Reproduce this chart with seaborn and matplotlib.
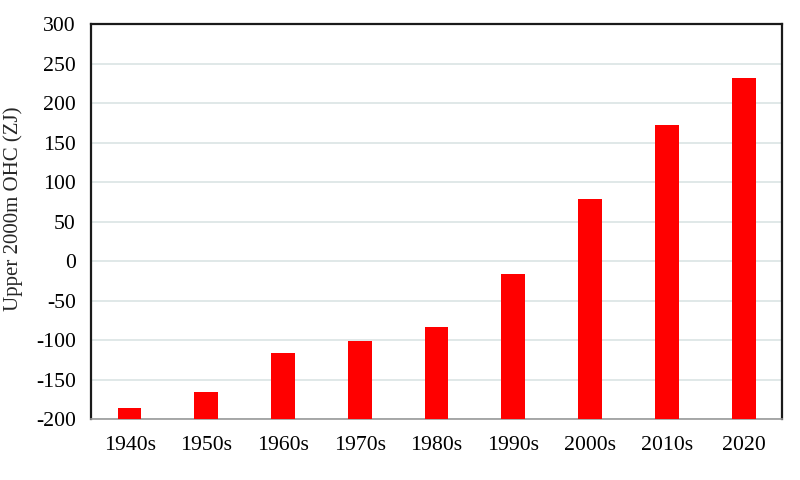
import matplotlib
matplotlib.use("Agg")
import matplotlib.pyplot as plt
import seaborn as sns
import pandas as pd
import numpy as np

categories = ["1940s", "1950s", "1960s", "1970s", "1980s", "1990s", "2000s", "2010s", "2020"]
ohc_values = [-186.5, -166, -116, -101.5, -83, -17, 78, 172, 232]
y_ticks = [-200, -150, -100, -50, 0, 50, 100, 150, 200, 250, 300]
baseline = -200

sns.set_theme(style="white")
plt.rcParams['font.family'] = ['Liberation Serif', 'DejaVu Serif']

df = pd.DataFrame({"decade": categories, "ohc": ohc_values})
df["height"] = df["ohc"] - baseline

fig = plt.figure(figsize=(8, 4.8), dpi=100)
ax = fig.add_axes([0.114, 0.127, 0.8635, 0.823])

sns.barplot(data=df, x="decade", y="height", color="#ff0000", saturation=1,
            width=0.31, bottom=baseline, ax=ax, zorder=3, linewidth=0)

ax.set_ylim(-200, 300)
ax.set_xlim(-0.5, 8.5)
ax.set_yticks(y_ticks)
ax.set_yticklabels([str(t) for t in y_ticks])
ax.yaxis.grid(True, color="#dde6e6", linewidth=1.3, zorder=0)
ax.xaxis.grid(False)
ax.set_axisbelow(True)

ax.set_xlabel("")
ax.set_ylabel("Upper 2000m OHC (ZJ)", fontsize=15)
ax.yaxis.set_label_coords(-0.099, 0.532)
ax.tick_params(axis="both", which="both", length=0, labelsize=15.7, colors="black")
ax.tick_params(axis="y", pad=11)
ax.tick_params(axis="x", pad=12)

for side in ["top", "left", "right"]:
    ax.spines[side].set_visible(True)
    ax.spines[side].set_color("#1a1a1a")
    ax.spines[side].set_linewidth(1.6)
ax.spines["bottom"].set_color("#9a9a9a")
ax.spines["bottom"].set_linewidth(1.2)

fig.savefig("out.png", dpi=100)
